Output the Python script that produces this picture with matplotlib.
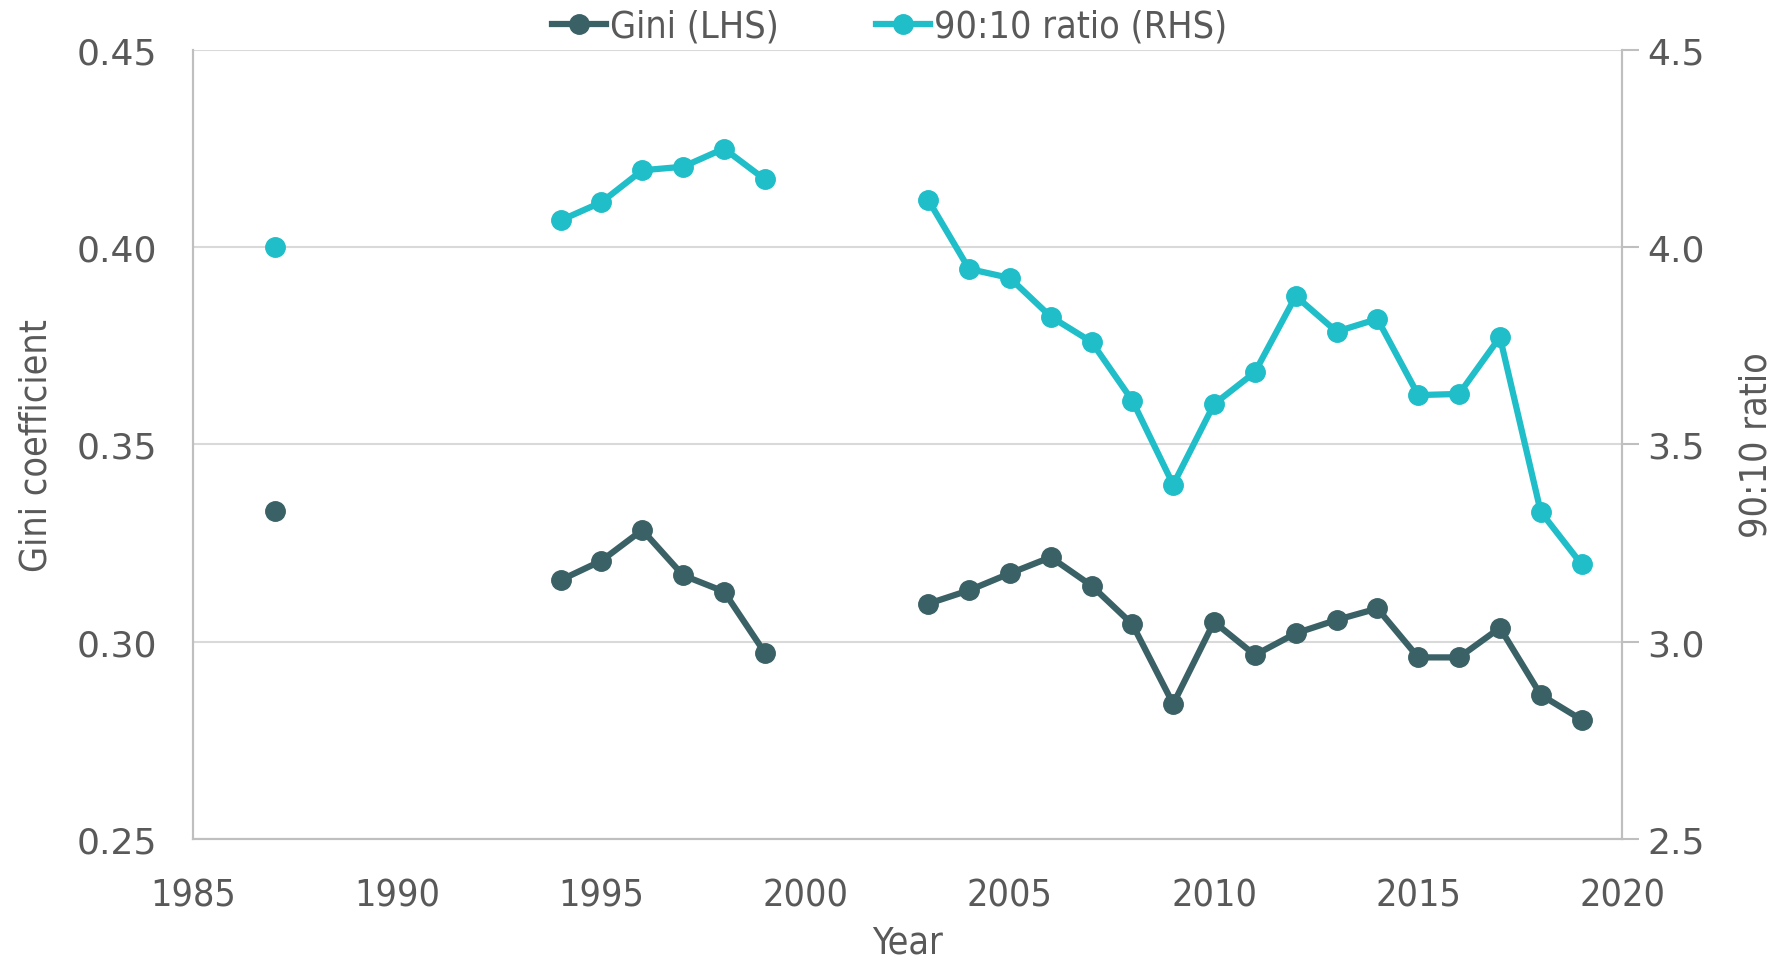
import matplotlib.pyplot as plt
import numpy as np

years_gini = [1987, 1994, 1995, 1996, 1997, 1998, 1999,
              2003, 2004, 2005, 2006, 2007, 2008, 2009, 2010, 2011,
              2012, 2013, 2014, 2015, 2016, 2017, 2018, 2019]
gini = [0.333, 0.3156, 0.3205, 0.3283, 0.3168, 0.3127, 0.2972,
        0.3096, 0.3130, 0.3173, 0.3214, 0.3142, 0.3044, 0.2842, 0.3050, 0.2966,
        0.3021, 0.3055, 0.3084, 0.2960, 0.2960, 0.3035, 0.2865, 0.2802]
ratio = [4.00, 4.068, 4.114, 4.195, 4.204, 4.250, 4.172,
         4.120, 3.945, 3.922, 3.824, 3.760, 3.611, 3.398, 3.602, 3.683,
         3.876, 3.786, 3.818, 3.625, 3.628, 3.772, 3.329, 3.196]

DARK = '#3A6166'
CYAN = '#1FBEC8'
GREY = '#595959'


def segments(x, y):
    """Split into runs of consecutive years so gaps stay empty"""
    runs, cur = [], [0]
    for i in range(1, len(x)):
        if x[i] - x[i - 1] == 1:
            cur.append(i)
        else:
            runs.append(cur)
            cur = [i]
    runs.append(cur)
    return [([x[i] for i in r], [y[i] for i in r]) for r in runs]


plt.rcParams['font.family'] = ['DejaVu Sans']
plt.rcParams['font.stretch'] = 'condensed'

fig, ax = plt.subplots(figsize=(17.79, 9.62), dpi=100)
fig.subplots_adjust(left=0.1085, right=0.912, top=0.947, bottom=0.127)
ax2 = ax.twinx()

for xs, ys in segments(years_gini, gini):
    ax.plot(xs, ys, color=DARK, lw=4.5, marker='o', ms=14, zorder=3)
for xs, ys in segments(years_gini, ratio):
    ax2.plot(xs, ys, color=CYAN, lw=4.5, marker='o', ms=14, zorder=3)

ax.set_xlim(1985, 2020)
ax.set_ylim(0.25, 0.45)
ax2.set_ylim(2.5, 4.5)
ax.set_xticks(np.arange(1985, 2021, 5))
ax.set_yticks(np.arange(0.25, 0.451, 0.05))
ax.set_yticklabels([f'{v:.2f}' for v in np.arange(0.25, 0.451, 0.05)],
                   stretch='normal')
ax2.set_yticks(np.arange(2.5, 4.51, 0.5))
ax2.set_yticklabels([f'{v:.1f}' for v in np.arange(2.5, 4.51, 0.5)],
                    stretch='normal')

ax.yaxis.grid(True, color='#D9D9D9', lw=1.5)
ax.set_axisbelow(True)
for a in (ax, ax2):
    a.spines['top'].set_visible(False)
    for s in ('left', 'right', 'bottom'):
        a.spines[s].set_color('#BFBFBF')
        a.spines[s].set_linewidth(1.5)

ax.tick_params(axis='y', length=0, colors=GREY, labelsize=26, pad=26)
ax.tick_params(axis='x', length=0, colors=GREY, labelsize=27, pad=28)
ax2.tick_params(axis='y', length=12, width=1.5, color='#BFBFBF',
                labelcolor=GREY, labelsize=26, pad=6)

ax.set_xlabel('Year', fontsize=27, color=GREY, labelpad=8)
ax.set_ylabel('Gini coefficient', fontsize=27, color=GREY, labelpad=16)
ax2.set_ylabel('90:10 ratio', fontsize=27, color=GREY, labelpad=24)

h1 = plt.Line2D([], [], color=DARK, lw=4.5, marker='o', ms=14)
h2 = plt.Line2D([], [], color=CYAN, lw=4.5, marker='o', ms=14)
fig.legend([h1, h2], ['Gini (LHS)', '90:10 ratio (RHS)'], loc='upper center',
           bbox_to_anchor=(0.5, 1.025), ncol=2, frameon=False, fontsize=27,
           labelcolor=GREY, handlelength=1.45, handletextpad=0.1,
           columnspacing=2.6)

fig.savefig('out.png', dpi=100)
